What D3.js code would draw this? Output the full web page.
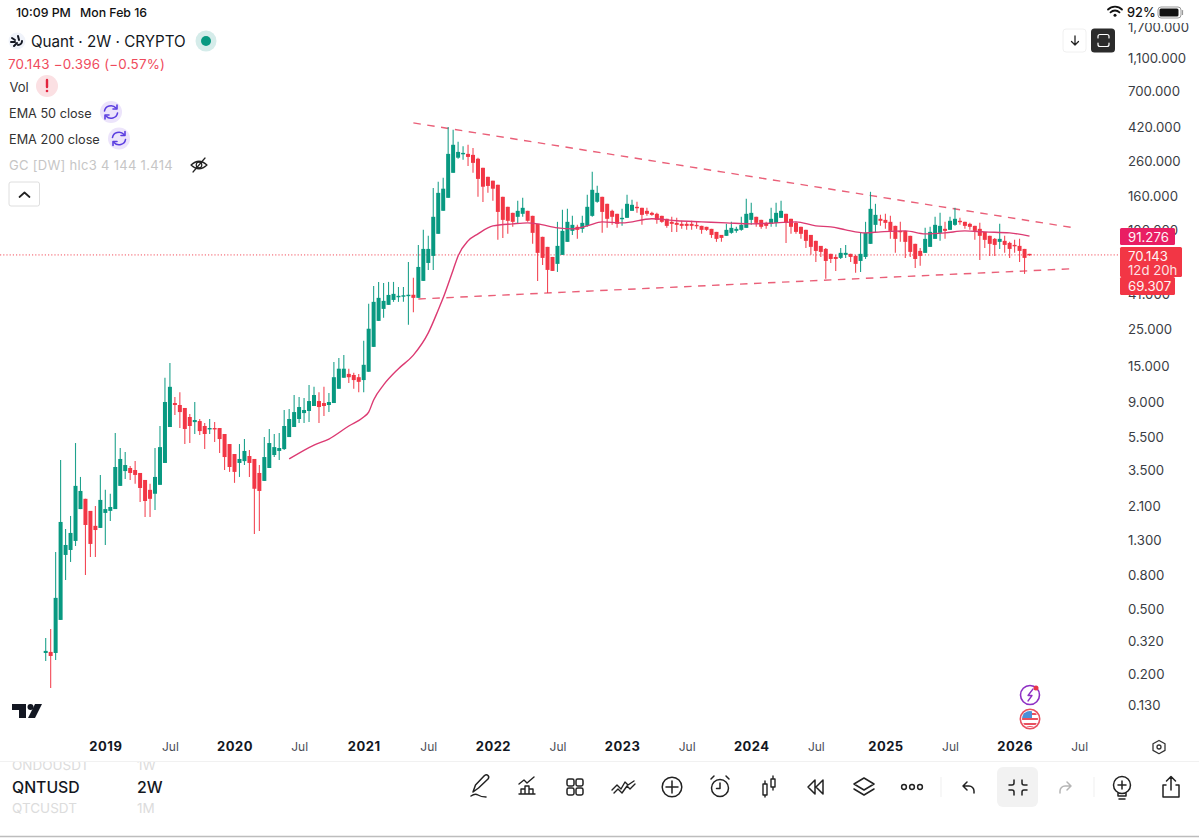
<!DOCTYPE html>
<html><head><meta charset="utf-8">
<script src="https://cdn.jsdelivr.net/npm/d3@7/dist/d3.min.js"></script>
<style>html,body{margin:0;padding:0;background:#fff}svg{display:block}text{font-family:Inter,"Noto Sans",sans-serif}</style>
</head><body><svg id="c" width="1199" height="838"></svg>
<script>
const opens=[.269,.273,.269,.427,1.059,1.135,1.288,2.01,2.32,1.96,
1.59,1.545,1.905,1.96,2.01,2.78,3.42,3.57,3.47,3.33,
3.02,2.63,2.49,2.82,3.83,6.33,8.85,8.61,8.26,7.28,
6.78,6.88,6.42,6.16,6.24,6.24,5.74,4.99,4.34,3.83,
3.93,4.22,4.05,3.33,2.98,3.57,4.28,4.53,4.65,5.50,
6.33,7.08,7.69,7.92,8.49,9.1,8.85,8.61,8.85,10.8,
12.6,13.3,13.1,12.7,12.2,13.7,19.4,27.9,33,34.9,
37.4,39,39.6,39.9,40.2,38.5,48.8,62.7,69.2,94.2,
130,155.8,221,273,288,288,284,269,237,209,
198,187,158,137.4,126.3,119.5,124.6,129.9,121.1,108.3,
90.3,78.5,68.2,61.9,70.2,84.2,98.2,103.9,101,105.3,
121.1,147.4,158,143.3,129.9,124.6,116.2,117.8,129.9,137.4,
135.5,129.9,126.3,124.6,121.1,116.2,111.4,109.8,108.3,108.3,
108.3,106.8,105.3,103.9,101,96.8,92.8,91.6,95.5,98.2,
99.6,102.4,114.5,119.5,114.5,109.8,108.3,109.8,117.8,124.6,
116.2,109.8,103.9,99.6,92.8,85.4,79.6,76.3,71.2,68.2,
67.3,70.2,71.2,69.2,64.5,68.2,81.9,106.8,116.2,114.5,
111.4,105.3,98.2,98.2,91.6,81.9,74.2,72.2,78.5,87.8,
95.5,101,99.6,106.8,113,111.4,108.3,105.3,101,96.8,
91.6,87.8,84.2,85.4,83,80.7,79.6,76.3,71.2];
const highs=[.332,.376,1.104,3.99,1.52,1.826,5.06,3.15,2.32,1.96,
2.10,3.24,2.63,2.49,5.82,4.72,4.46,3.67,3.93,3.33,
3.02,2.86,4.72,6.42,12.6,15.5,9.63,10.3,8.26,7.59,
8.98,7.08,6.69,7.08,6.78,6.24,5.74,4.99,4.34,4.99,
5.35,4.59,4.05,3.72,5.50,6.16,5.74,5.82,8.03,8.15,
9.9,9.63,9.5,11.4,11.1,10.3,11.1,10.2,15.7,16.6,
17.3,14.3,13.5,13.3,21.1,35.4,45.5,48.1,47.4,48.1,
48.1,44.8,44.8,63.6,50.9,80.7,99.6,91.6,179,195,
206,420,403,341,320,327,313,273,237,209,
198,187,158,137.4,126.3,149.5,155.8,129.9,121.1,108.3,
90.3,78.5,68.2,111.4,131.8,133.6,121.1,106.8,121.1,162.5,
224,184.3,158,143.3,131.8,124.6,133.6,162.5,151.5,147.4,
135.5,135.5,128.1,126.3,121.1,116.2,119.5,117.8,113,111.4,
113,111.4,105.3,103.9,101,96.8,92.8,108.3,111.4,103.9,
119.5,153.7,145.3,119.5,114.5,111.4,135.5,145.3,149.5,124.6,
116.2,111.4,103.9,99.6,92.8,85.4,79.6,77.4,71.2,70.2,
77.4,80.7,71.2,70.2,95.5,111.4,169.5,143.3,122.8,124.6,
121.1,105.3,111.4,98.2,91.6,81.9,77.4,102.4,103.9,119.5,
126.3,111.4,119.5,135.5,117.8,111.4,109.8,105.3,109.8,96.8,
91.6,89,108.3,91.6,84.2,86.6,87.8,76.3,71.2];
const lows=[.2405,.165,.244,.427,.747,.96,1.20,2.01,.80,1.03,
1.03,1.545,1.217,1.70,2.01,2.78,3.06,3.02,2.86,2.22,
1.80,1.80,1.986,2.82,3.83,6.33,7.49,6.24,4.99,5.06,
5.74,5.66,4.65,5.74,5.13,4.40,3.47,3.38,2.90,3.15,
3.72,3.15,1.42,1.48,2.98,3.57,4.16,3.99,4.59,5.50,
6.33,6.69,6.69,6.78,8.49,6.69,7.38,7.8,8.85,10.8,
12.6,11.7,10.8,10.3,10.3,13.7,19.4,27.9,29.1,34.9,
36.4,36.4,36.4,26.4,31.5,38.5,48.8,56.9,56.9,94.2,
130,155.8,221,269,265,243,221,158,147,167,
149.5,86.6,89,94.2,103.9,108.3,119.5,111.4,81.9,48.8,
61,41.2,56.1,55.3,70.2,84.2,92.8,87.8,95.5,103.9,
119.5,145.3,95.5,102.4,106.8,102.4,105.3,117.8,129.9,126.3,
106.8,121.1,121.1,108.3,109.8,102.4,96.8,96.8,101,99.6,
99.6,101,94.2,98.2,89,84.2,84.2,91.6,94.2,95.5,
98.2,102.4,106.8,103.9,101,101,103.9,103.9,117.8,83,
94.2,94.2,87.8,77.4,70.2,63.6,68.2,50.2,62.7,56.1,
66.3,67.3,63.6,54.6,55.3,66.3,81.9,95.5,105.3,101,
87.8,72.2,84.2,67.3,68.2,58.5,60.2,72.2,78.5,87.8,
85.4,87.8,99.6,105.3,106.8,101,99.6,86.6,65.4,77.4,
69.2,69.2,76.3,72.2,67.3,72.2,63.6,53.8,69.3];
const closes=[.277,.258,.581,1.679,1.217,1.44,2.78,2.59,1.61,1.235,
1.50,2.285,2.01,2.07,3.62,4.05,3.72,3.33,3.24,2.70,
2.25,2.32,3.15,4.78,8.98,11.1,8.61,7.8,6.16,6.42,
6.98,5.98,5.74,6.24,6.16,5.35,4.16,3.62,3.38,4.05,
4.53,3.83,2.67,2.59,4.16,5.06,4.78,4.72,6.42,7.08,
7.8,8.37,8.03,9.1,9.9,8.37,8.49,8.98,12.7,14.3,
14.3,12.7,12.2,11.9,15.1,25,36.4,38.5,36.9,40.1,
40.7,39.6,39.9,40.2,38.5,59.3,76.3,76.3,119.5,167,
177,288,327,296,292,276,254,203,182,184,
177,128,114.5,113,111.4,129.9,135.5,113,95.5,72.2,
67.3,56.9,56.1,79.6,98.2,111.4,106.8,99.6,109.8,137.4,
174.3,167,128,116.2,119.5,108.3,117.8,143.3,141.3,135.5,
122.8,124.6,122.8,114.5,111.4,105.3,108.3,106.8,105.3,105.3,
105.3,105.3,99.6,99.6,92.8,87.8,89,99.6,102.4,101,
106.8,124.6,126.3,109.8,103.9,105.3,116.2,126.3,129.9,109.8,
103.9,96.8,94.2,85.4,78.5,74.2,73.2,64.5,66.3,66.3,
72.2,72.2,68.2,61.9,71.2,95.5,133.6,122.8,113,109.8,
98.2,87.8,96.8,84.2,73.2,66.3,69.2,87.8,96.8,106.8,
105.3,98.2,113,116.2,111.4,105.3,103.9,98.2,91.6,86.6,
81.9,80.7,87.8,80.7,76.3,79.6,74.2,67.3,70.143];
const emaBars=[49,54,57,61,64,65,66,68,71,74,77,79,80,82,83,85,87,90,94,97,99,103,106,109,112,116,122,127,132,137,142,147,151,155,158,161,165,168,173,177,181,185,189,194,198];
const emaVals=[4.05,4.92,5.35,6.42,7.28,7.8,9.24,11.4,14.3,17.3,23.6,32.5,38.5,56.9,69.2,85.4,94.2,105.3,108.3,109.8,108.3,102.4,101,105.3,111.4,109.8,116.2,113,111.4,109.8,108.3,109.8,111.4,105.3,103.9,99.6,95.5,96.8,98.2,94.2,95.5,98.2,96.8,95.5,91.276];
const priceTicks=[0.13,0.2,0.32,0.5,0.8,1.3,2.1,3.5,5.5,9,15,25,41,100,160,260,420,700,1100,1700];
const timeBars=[12,25,38,51,64,77,90,103,116,129,142,155,169,182,195,208];
const timeLabels=["2019","Jul","2020","Jul","2021","Jul","2022","Jul","2023","Jul","2024","Jul","2025","Jul","2026","Jul"];
const upperTrend=[[74,444],[207,102.4]];
const lowerTrend=[[75,37.9],[206,57.7]];
const lastPrice=70.143;

const GREEN="#089981",RED="#f23645",PINK="#dc3a72",TREND="#ea5f78";
const svg=d3.select("#c");
svg.append("rect").attr("width",1199).attr("height",838).attr("fill","#fff");
const x=d3.scaleLinear().domain([0,198]).range([45.7,1029.5]);
const y=d3.scaleLog().domain([0.13,1100]).range([705,58]);

// price axis
const yAxis=d3.axisRight(y).tickValues(priceTicks).tickSize(0).tickPadding(0).tickFormat(d3.format(",.3f"));
const ya=svg.append("g").attr("transform","translate(1128,0.5)").call(yAxis);
ya.select(".domain").remove();
ya.selectAll("text").attr("font-size",13.2).attr("fill","#3a3d44").style("font-family","Inter,sans-serif");

// time axis
const xAxis=d3.axisBottom(x).tickValues(timeBars).tickSize(0).tickPadding(0).tickFormat((d,i)=>timeLabels[i]);
const xa=svg.append("g").attr("transform","translate(0,742)").call(xAxis);
xa.select(".domain").remove();
xa.selectAll("text").each(function(d,i){
  const yr=timeLabels[i]!=="Jul";
  d3.select(this).attr("font-size",yr?13:12).attr("font-weight",yr?700:400).attr("letter-spacing",yr?0.5:0)
    .attr("fill",yr?"#131722":"#4a4d55").style("font-family","Inter,sans-serif");
});

// last-price dotted line
svg.append("line").attr("x1",0).attr("x2",1120).attr("y1",y(lastPrice)).attr("y2",y(lastPrice))
  .attr("stroke",RED).attr("stroke-width",1).attr("stroke-dasharray","1.2 2").attr("opacity",.85);

// trend lines
const tl=d3.line().x(d=>x(d[0])).y(d=>y(d[1]));
[upperTrend,lowerTrend].forEach(t=>svg.append("path").attr("d",tl(t)).attr("fill","none")
  .attr("stroke",TREND).attr("stroke-width",1.4).attr("stroke-dasharray","7.5 6.5"));

// candles
const bars=d3.range(opens.length).map(i=>({i,o:opens[i],h:highs[i],l:lows[i],c:closes[i]}));
const col=d=>d.c>=d.o?GREEN:RED;
const g=svg.append("g");
g.selectAll("line").data(bars).join("line")
  .attr("x1",d=>x(d.i)).attr("x2",d=>x(d.i)).attr("y1",d=>y(d.h)).attr("y2",d=>y(d.l))
  .attr("stroke",col).attr("stroke-width",1.1).attr("opacity",.9);
g.selectAll("rect").data(bars).join("rect")
  .attr("x",d=>x(d.i)-2).attr("width",4)
  .attr("y",d=>Math.min(y(d.o),y(d.c)))
  .attr("height",d=>Math.max(1.4,Math.abs(y(d.o)-y(d.c))))
  .attr("fill",col);

// EMA
svg.append("path").datum(d3.range(emaBars.length))
  .attr("d",d3.line().x(i=>x(emaBars[i])).y(i=>y(emaVals[i])).curve(d3.curveMonotoneX))
  .attr("fill","none").attr("stroke",PINK).attr("stroke-width",1.4);

// price labels
function tag(bx,by,w,h,fill,lines){
  svg.append("rect").attr("x",bx).attr("y",by).attr("width",w).attr("height",h).attr("rx",1.5).attr("fill",fill);
  lines.forEach(l=>svg.append("text").attr("x",1128).attr("y",l[1]).attr("font-size",13.2).attr("fill","#fff").attr("opacity",l[2]||.95)
    .attr("dominant-baseline","central").text(l[0]));
}
tag(1120,228,55,17,"#e91e63",[["91.276",236.5]]);
tag(1120,277,55,18,RED,[["69.307",286]]);
tag(1120,247,62,30,RED,[["70.143",255.5],["12d 20h",269.5,.85]]);

// status bar & top cover
svg.append("rect").attr("width",1199).attr("height",23).attr("fill","#fff");
const T=(s,tx,ty,size,fill,w,ls)=>svg.append("text").attr("x",tx).attr("y",ty).attr("font-size",size).attr("fill",fill)
   .attr("font-weight",w||400).attr("letter-spacing",ls||0).attr("dominant-baseline","central").text(s);
T("10:09 PM",16,12,12.3,"#111",500);
T("Mon Feb 16",80,12,12.3,"#111",500);
T("92%",1127,12,12.8,"#111",500);
const P=(d,st,sw,fi)=>svg.append("path").attr("d",d).attr("fill",fi||"none").attr("stroke",st||"none").attr("stroke-width",sw||1.5)
   .attr("stroke-linecap","round").attr("stroke-linejoin","round");
const C=(cx,cy,r,fi,st,sw)=>svg.append("circle").attr("cx",cx).attr("cy",cy).attr("r",r).attr("fill",fi||"none").attr("stroke",st||"none").attr("stroke-width",sw||1);
// wifi
P("M1108 9.5a10 10 0 0 1 14 0",'#111',1.8);P("M1110.5 12.3a6.5 6.5 0 0 1 9 0",'#111',1.8);C(1115,15.3,1.5,'#111');
// battery
svg.append("rect").attr("x",1158).attr("y",7).attr("width",23).attr("height",11).attr("rx",3).attr("fill","none").attr("stroke","#999");
svg.append("rect").attr("x",1159.5).attr("y",8.5).attr("width",19).attr("height",8).attr("rx",1.5).attr("fill","#111");
P("M1182.5 10.5v4","#999",1.2);

// legend
C(17,41,8.5,"#f0f3fa");
P("M12 38l3 2 M11 42h4 M14 46l3-3 M18 36l1 4 M22 41a4 4 0 0 1-4 4","#131722",2);
T("Quant · 2W · CRYPTO",31,41,15.2,"#131722");
C(206,41,10.5,"#d5ecea");C(206,41,5,GREEN);
T("70.143  −0.396 (−0.57%)",8,63.5,13.4,"#ef4a5c",400,0.2);
T("Vol",9.5,87,13,"#333");
C(47,86,11,"#fbe0e3");
P("M47 80v7","#e2253f",2.4);C(47,91,1.3,"#e2253f");
function sync(cx,cy){C(cx,cy,11,"#ece4fb");
  P(`M${cx-6.5} ${cy-1}a6.5 6 0 0 1 11.5 -3 M${cx+6.5} ${cy+1}a6.5 6 0 0 1 -11.5 3`,"#5b3ee0",1.6);
  P(`M${cx+6} ${cy-7}v4h-4 M${cx-6} ${cy+7}v-4h4`,"#5b3ee0",1.6);}
T("EMA 50 close",9,113,12.7,"#333");sync(111,112);
T("EMA 200 close",9,139,12.7,"#333");sync(119,138.5);
T("GC [DW] hlc3 4 144 1.414",9,165,13,"#c6c6c6",400,0.3);
P("M191 165q8-7.5 16 0q-8 7.5-16 0z","#222",1.2);C(199,165,2.8,null,"#222",1.2);P("M193 172l12-14","#222",1.2);
svg.append("rect").attr("x",9).attr("y",182).attr("width",30.5).attr("height",24).attr("rx",2).attr("fill","#fff").attr("stroke","#dedede");
P("M19.5 197l5-4.5 5 4.5","#222",1.7);

// top-right buttons
svg.append("rect").attr("x",1063).attr("y",29).attr("width",23).attr("height",23).attr("rx",3).attr("fill","#fff").attr("stroke","#f0f0f0");
P("M1075 36v9M1071.5 41.5l3.5 3.5 3.5-3.5","#222",1.3);
svg.append("rect").attr("x",1091).attr("y",28.5).attr("width",24).attr("height",24).attr("rx",3.5).attr("fill","#2b2b2b");
P("M1098 38v-1.5a2 2 0 0 1 2-2h7a2 2 0 0 1 2 2v1.5M1098 43v1.5a2 2 0 0 0 2 2h7a2 2 0 0 0 2-2V43","#fff",1.2);

// TV logo
P("M12 704h14v14h-7v-8h-7z",null,0,"#131722");
C(30.5,707,3,"#131722");
P("M35 704h7l-7 14h-7z",null,0,"#131722");

// event icons
C(1030,695,9.5,"#fff","#8e2fc4",1.6);
P("M1033 689l-5 6.5h4l-4 5.5",'#8e2fc4',1.3);
C(1036,688,2.5,"#e8344a");
C(1030,719,9.7,"#fff","#e8505f",1.6);
svg.append("clipPath").attr("id","fl").append("circle").attr("cx",1030).attr("cy",719).attr("r",8);
const fl=svg.append("g").attr("clip-path","url(#fl)");
[713,718,723,726].forEach(v=>fl.append("rect").attr("x",1021).attr("y",v).attr("width",18).attr("height",2).attr("fill","#e8505f"));
fl.append("rect").attr("x",1022).attr("y",711).attr("width",10).attr("height",7).attr("fill","#4a90d9");

// settings hexagon
P("M1159 740.5l6 3.3v6.6l-6 3.3-6-3.3v-6.6z","#333",1.3);C(1159,747,2,null,"#333",1.3);

// bottom bar
svg.append("line").attr("x1",0).attr("x2",1199).attr("y1",761.5).attr("y2",761.5).attr("stroke","#f1f1f1");
svg.append("clipPath").attr("id","bb").append("rect").attr("x",0).attr("y",762).attr("width",1199).attr("height",70);
const fade=(s,tx,ty)=>svg.append("text").attr("x",tx).attr("y",ty).attr("font-size",13.5).attr("fill","#dcdcdc")
  .attr("dominant-baseline","central").attr("clip-path","url(#bb)").text(s);
fade("ONDOUSDT",12,765);fade("1W",137,765);fade("QTCUSDT",12,808);fade("1M",137,808);
T("QNTUSD",12,787,15.8,"#131722",500);T("2W",137,787,15.8,"#131722",500);
const I="#222";
// pen
P("M473 792l2.5-7 9-9.5q2-1.5 3.5 0t0 3.5l-9.5 9zM471 796q4-3 7-1t8 2",I,1.5);
// chart
P("M519 794h16M521 794v-5h4v5M525 794v-8h4v8M529 794v-5h4v5M519 784l5-4 3 3 7-6",I,1.4);
// grid
[[567,779],[576,779],[567,788],[576,788]].forEach(p=>svg.append("rect").attr("x",p[0]).attr("y",p[1]).attr("width",7).attr("height",7).attr("rx",1.7).attr("fill","none").attr("stroke",I).attr("stroke-width",1.5));
// pattern
P("M612 790l5-5 4 4 4-7 3 3 6-4M614 793l4-4 4 4 5-7 3 3 5-5",I,1.4);
// plus
C(672,787,9.8,null,I,1.5);P("M672 781v12M666 787h12",I,1.5);
// alarm
C(720,788,8.5,null,I,1.5);P("M720 783v5.5l-3.5 0M711 779l3-3M729 779l-3-3",I,1.5);
// candles
P("M763 784h4v11h-4zM765 784v-3M765 795v2M771 779h4v8h-4zM773 779v-3M773 787v3",I,1.4);
// rewind
P("M815 780l-7 7 7 7zM823 780l-7 7 7 7z",I,1.5);
// layers
P("M864 778l10 6-10 6-10-6zM854 789l10 6 10-6",I,1.5);
// dots
[904,912,920].forEach(c=>C(c,787,2.4,null,I,1.5));
svg.append("line").attr("x1",941).attr("x2",941).attr("y1",777).attr("y2",797).attr("stroke","#efefef");
// undo
P("M974 793v-2a5 5 0 0 0-5-5h-5M967 782l-4 4 4 4",I,1.5);
svg.append("rect").attr("x",997).attr("y",767).attr("width",41).attr("height",40).attr("rx",6).attr("fill","#f2f2f2");
P("M1014 780v3a2 2 0 0 1-2 2h-3M1022 780v3a2 2 0 0 0 2 2h3M1014 795v-3a2 2 0 0 0-2-2h-3M1022 795v-3a2 2 0 0 1 2-2h3",I,1.5);
// redo
P("M1060 793v-2a5 5 0 0 1 5-5h5M1067 782l4 4-4 4","#b5b5b5",1.5);
svg.append("line").attr("x1",1094).attr("x2",1094).attr("y1",777).attr("y2",797).attr("stroke","#efefef");
// bulb
C(1122,785,8.5,null,I,1.5);P("M1122 781v8M1118 785h8M1118 793v3h8v-3M1119 799h6",I,1.5);
// share
P("M1171 777v13M1166.5 781l4.5-4.5 4.5 4.5M1166 785h-3v12h16v-12h-3",I,1.5);
// bottom separator
svg.append("line").attr("x1",0).attr("x2",1199).attr("y1",836.5).attr("y2",836.5).attr("stroke","#bdbdbd").attr("stroke-width",1.4);
</script></body></html>
